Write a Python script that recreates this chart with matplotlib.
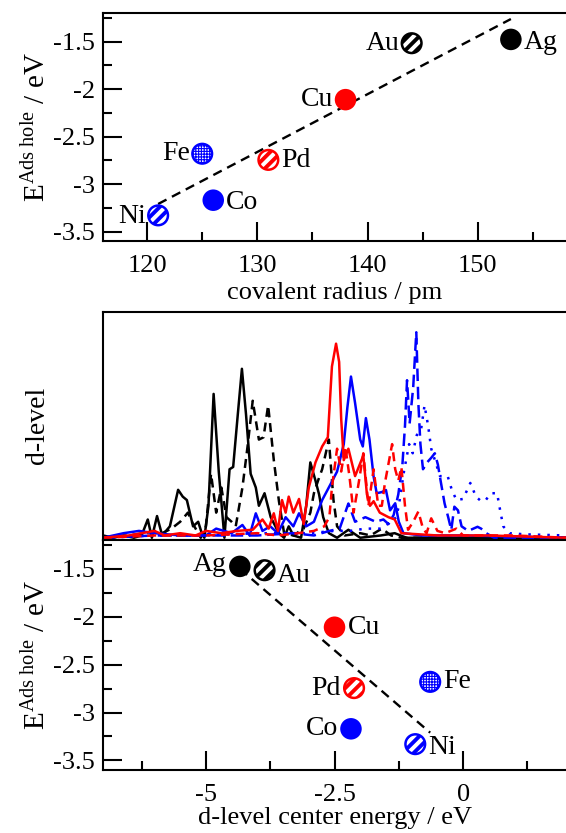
import matplotlib
matplotlib.use("Agg")
import matplotlib.pyplot as plt
from matplotlib.ticker import MultipleLocator

plt.rcParams["font.family"] = ["Liberation Serif", "DejaVu Serif"]
plt.rcParams["mathtext.fontset"] = "custom"
plt.rcParams["mathtext.rm"] = "Liberation Serif"
plt.rcParams["mathtext.it"] = "Liberation Serif:italic"
plt.rcParams["axes.unicode_minus"] = False
plt.rcParams["font.size"] = 19
plt.rcParams["axes.linewidth"] = 1.5

# --- data ------------------------------------------------------------------
metals   = ["Ni", "Co", "Fe", "Pd", "Cu", "Au", "Ag"]
radius   = [121, 126, 125, 131, 138, 144, 153]            # pm
e_hole   = [-3.33, -3.17, -2.68, -2.745, -2.11, -1.515, -1.475]  # eV
d_center = [-0.93, -2.18, -0.64, -2.12, -2.50, -3.86, -4.34]      # eV
colors   = ["blue", "blue", "blue", "red", "red", "black", "black"]
fills    = ["stripe", "solid", "dots", "stripe", "solid", "stripe", "solid"]

# linear fits (end points)
fit_r_x = [121, 153]
fit_r_y = [-3.21, -1.26]
fit_d_x = [-4.34, -0.64]
fit_d_y = [-1.50, -3.21]

# d-projected DOS curves (arb. units)
ag_E = [-7.0, -6.8, -6.6, -6.4, -6.25, -6.13, -6.05, -5.95, -5.85, -5.7, -5.54, -5.45,
        -5.37, -5.25, -5.15, -5.08, -5.03, -4.95, -4.85, -4.75, -4.64, -4.54, -4.47,
        -4.38, -4.30, -4.22, -4.13, -4.03, -3.97, -3.86, -3.74, -3.58, -3.48, -3.39,
        -3.30, -3.15, -3.05, -2.97, -2.87, -2.80, -2.72, -2.61, -2.45, -2.23, -2.0,
        -1.6, -1.33, -1.1, 0.0, 2.0]
ag_h = [0.02, 0.01, 0.02, 0.01, 0.02, 0.09, 0.01, 0.105, 0.02, 0.06, 0.22, 0.19,
        0.175, 0.06, 0.08, 0.03, 0.01, 0.15, 0.64, 0.30, 0.01, 0.31, 0.32,
        0.55, 0.75, 0.55, 0.29, 0.23, 0.15, 0.205, 0.10, 0.03, 0.01, 0.06,
        0.02, 0.01, 0.15, 0.34, 0.26, 0.20, 0.10, 0.03, 0.01, 0.045, 0.01,
        0.02, 0.03, 0.01, 0.01, 0.01]

au_E = [-7.0, -6.5, -6.2, -6.0, -5.85, -5.67, -5.5, -5.35, -5.25, -5.1, -5.0, -4.9,
        -4.8, -4.7, -4.6, -4.5, -4.42, -4.29, -4.19, -4.09, -3.97, -3.88, -3.79,
        -3.68, -3.58, -3.48, -3.3, -3.1, -2.97, -2.90, -2.82, -2.74, -2.61, -2.52,
        -2.45, -2.3, -2.0, -1.8, -1.58, -1.4, -1.2, 0.0, 2.0]
au_h = [0.01, 0.02, 0.03, 0.04, 0.03, 0.05, 0.08, 0.12, 0.07, 0.01, 0.06, 0.29,
        0.12, 0.23, 0.10, 0.08, 0.06, 0.23, 0.41, 0.61, 0.44, 0.45, 0.59,
        0.35, 0.17, 0.03, 0.02, 0.05, 0.12, 0.205, 0.26, 0.31, 0.44, 0.175,
        0.06, 0.02, 0.03, 0.02, 0.05, 0.02, 0.01, 0.01, 0.01]

cu_E = [-7.0, -6.5, -6.0, -5.8, -5.5, -5.2, -5.0, -4.7, -4.4, -4.09, -3.9, -3.78,
        -3.68, -3.60, -3.52, -3.45, -3.39, -3.30, -3.19, -3.10, -3.00, -2.87, -2.74,
        -2.63, -2.55, -2.47, -2.41, -2.37, -2.32, -2.23, -2.10, -1.94, -1.87, -1.81,
        -1.74, -1.62, -1.45, -1.33, -1.20, -0.5, 0.5, 2.0]
cu_h = [0.01, 0.02, 0.04, 0.02, 0.03, 0.02, 0.04, 0.03, 0.04, 0.045, 0.09, 0.05,
        0.117, 0.04, 0.175, 0.12, 0.19, 0.12, 0.18, 0.07, 0.23, 0.34, 0.41,
        0.45, 0.76, 0.86, 0.78, 0.53, 0.35, 0.40, 0.28, 0.37, 0.20, 0.15,
        0.17, 0.12, 0.10, 0.09, 0.03, 0.02, 0.02, 0.01]

pd_E = [-7.0, -6.0, -5.0, -4.0, -3.6, -3.2, -2.9, -2.7, -2.6, -2.55, -2.45, -2.37,
        -2.29, -2.21, -2.13, -2.03, -1.94, -1.84, -1.74, -1.65, -1.58, -1.52, -1.38,
        -1.32, -1.26, -1.20, -1.13, -1.07, -0.97, -0.87, -0.78, -0.71, -0.62, -0.5,
        -0.35, -0.13, 0.0, 1.0, 2.0]
pd_h = [0.01, 0.02, 0.02, 0.03, 0.02, 0.03, 0.04, 0.06, 0.10, 0.23, 0.40, 0.30,
        0.41, 0.28, 0.12, 0.25, 0.38, 0.15, 0.31, 0.15, 0.15, 0.25, 0.42,
        0.31, 0.26, 0.32, 0.15, 0.045, 0.08, 0.125, 0.05, 0.03, 0.095, 0.04,
        0.03, 0.05, 0.02, 0.02, 0.01]

co_E = [-7.0, -6.6, -6.3, -6.0, -5.5, -5.0, -4.8, -4.5, -4.29, -4.15, -4.03, -3.9,
        -3.75, -3.6, -3.45, -3.3, -3.19, -3.05, -2.9, -2.74, -2.55, -2.45, -2.32,
        -2.25, -2.18, -2.10, -2.0, -1.95, -1.89, -1.82, -1.74, -1.68, -1.58, -1.50,
        -1.42, -1.32, -1.25, -1.16, -0.8, 0.0, 2.0]
co_h = [0.01, 0.03, 0.04, 0.03, 0.02, 0.02, 0.05, 0.03, 0.066, 0.02, 0.117, 0.04,
        0.06, 0.03, 0.10, 0.06, 0.117, 0.06, 0.08, 0.175, 0.256, 0.30, 0.42,
        0.58, 0.716, 0.60, 0.44, 0.41, 0.534, 0.44, 0.278, 0.205, 0.21, 0.219,
        0.13, 0.161, 0.08, 0.03, 0.02, 0.02, 0.01]

ni_E = [-7.0, -6.0, -5.0, -4.0, -3.3, -2.9, -2.6, -2.4, -2.23, -2.1, -1.9, -1.7,
        -1.55, -1.45, -1.35, -1.26, -1.18, -1.13, -1.09, -1.04, -0.97, -0.91, -0.87,
        -0.83, -0.78, -0.70, -0.62, -0.55, -0.49, -0.43, -0.36, -0.29, -0.23, -0.17,
        -0.10, -0.03, 0.1, 0.28, 0.35, 0.45, 0.6, 1.0, 2.0]
ni_h = [0.01, 0.02, 0.02, 0.02, 0.03, 0.02, 0.04, 0.05, 0.16, 0.08, 0.10, 0.08,
        0.09, 0.07, 0.11, 0.20, 0.33, 0.50, 0.70, 0.51, 0.67, 0.91, 0.60,
        0.42, 0.31, 0.34, 0.36, 0.38, 0.33, 0.25, 0.16, 0.10, 0.044, 0.146,
        0.13, 0.06, 0.04, 0.058, 0.05, 0.03, 0.01, 0.01, 0.01]

fe_E = [-7.0, -6.0, -5.0, -4.0, -3.0, -2.5, -2.2, -1.9, -1.6, -1.4, -1.3, -1.25,
        -1.15, -1.05, -0.98, -0.90, -0.82, -0.75, -0.68, -0.62, -0.52, -0.45, -0.30,
        -0.22, -0.13, 0.0, 0.14, 0.25, 0.35, 0.44, 0.54, 0.66, 0.72, 0.78, 0.9,
        1.2, 2.0]
fe_h = [0.01, 0.02, 0.02, 0.03, 0.03, 0.04, 0.04, 0.05, 0.05, 0.08, 0.10, 0.15,
        0.30, 0.42, 0.38, 0.46, 0.48, 0.59, 0.50, 0.40, 0.33, 0.28, 0.28,
        0.22, 0.175, 0.18, 0.25, 0.19, 0.17, 0.175, 0.205, 0.205, 0.13, 0.06, 0.03,
        0.025, 0.02]

# label offsets in pixels (dx, dy) and alignment per metal, per panel
top_lab = {"Ni": (-12, -1, "right"), "Co": (13, -2, "left"), "Fe": (-12, 0, "right"),
           "Pd": (13, -1, "left"), "Cu": (-12, 0, "right"), "Au": (-12, 0, "right"),
           "Ag": (13, -3, "left")}
bot_lab = {"Ni": (13, -3, "left"), "Co": (-13, 0, "right"), "Fe": (13, 0, "left"),
           "Pd": (-13, 0, "right"), "Cu": (13, 0, "left"), "Au": (12, -5, "left"),
           "Ag": (-13, 2, "right")}


def style_axes(ax):
    ax.spines["right"].set_visible(False)
    ax.tick_params(which="both", direction="in", color="black", width=1.5,
                   top=False, right=False)
    ax.tick_params(which="major", length=13.5)
    ax.tick_params(which="minor", length=6.5)
    ax.tick_params(axis="x", which="major", pad=10)
    ax.tick_params(axis="y", which="major", pad=6)


def draw_points(ax, xs, labels):
    for x, y, m, c, f in zip(xs, e_hole, metals, colors, fills):
        if f == "solid":
            ax.scatter([x], [y], s=240, color=c, edgecolors="none", zorder=4)
        elif f == "stripe":
            with plt.rc_context({"hatch.color": c, "hatch.linewidth": 2.8}):
                ax.scatter([x], [y], s=200, facecolors="white", edgecolors=c,
                           linewidths=1.8, hatch="///", zorder=4)
        else:
            with plt.rc_context({"hatch.color": c, "hatch.linewidth": 0.8}):
                ax.scatter([x], [y], s=200, facecolors="white", edgecolors=c,
                           linewidths=1.8, hatch="++++++", zorder=4)
        dx, dy, ha = labels[m]
        ax.annotate(m, (x, y), xytext=(dx, dy), textcoords="offset pixels",
                    ha=ha, va="center", fontsize=20, zorder=5)


fig = plt.figure(figsize=(5.66, 8.33), dpi=100)
ax1 = fig.add_axes([0.182, 0.7107, 0.818, 0.2733])
ax2 = fig.add_axes([0.182, 0.3517, 0.818, 0.2741])
ax3 = fig.add_axes([0.182, 0.0756, 0.818, 0.2761])

ylab = r"E$^{\rm Ads\ hole}$ / eV"
fmt = plt.FuncFormatter(lambda v, p: f"{v:g}")

# top: covalent radius
ax1.plot(fit_r_x, fit_r_y, color="black", lw=1.7, ls=(0, (4, 2.6)), zorder=3)
draw_points(ax1, radius, top_lab)
ax1.set_xlim(116, 158)
ax1.set_ylim(-3.6, -1.2)
ax1.xaxis.set_major_locator(MultipleLocator(10))
ax1.xaxis.set_minor_locator(MultipleLocator(5))
ax1.yaxis.set_major_locator(MultipleLocator(0.5))
ax1.yaxis.set_minor_locator(MultipleLocator(0.25))
ax1.yaxis.set_major_formatter(fmt)
ax1.set_xlabel("covalent radius / pm", labelpad=4)
ax1.set_ylabel(ylab, labelpad=1, fontsize=21)
style_axes(ax1)

# middle: d-level DOS
lw = 1.8
ax2.plot(ag_E, ag_h, color="black", lw=lw)
ax2.plot(au_E, au_h, color="black", lw=lw, ls=(0, (3.6, 2.3)))
ax2.plot(co_E, co_h, color="blue", lw=lw)
ax2.plot(ni_E, ni_h, color="blue", lw=lw, ls=(0, (5, 2.3)))
ax2.plot(fe_E, fe_h, color="blue", lw=lw, ls=(0, (1, 2.8)))
ax2.plot(cu_E, cu_h, color="red", lw=lw)
ax2.plot(pd_E, pd_h, color="red", lw=lw, ls=(0, (3.6, 2.3)))
ax2.set_xlim(-7, 2)
ax2.set_ylim(0, 1)
ax2.set_xticks([])
ax2.set_yticks([])
ax2.spines["right"].set_visible(False)
ax2.set_ylabel("d-level", labelpad=38, fontsize=20)

# bottom: d-level center
ax3.plot(fit_d_x, fit_d_y, color="black", lw=1.7, ls=(0, (4, 2.6)), zorder=3)
draw_points(ax3, d_center, bot_lab)
ax3.set_xlim(-7, 2)
ax3.set_ylim(-3.6, -1.2)
ax3.xaxis.set_major_locator(MultipleLocator(2.5))
ax3.xaxis.set_minor_locator(MultipleLocator(1.25))
ax3.xaxis.set_major_formatter(fmt)
ax3.yaxis.set_major_locator(MultipleLocator(0.5))
ax3.yaxis.set_minor_locator(MultipleLocator(0.25))
ax3.yaxis.set_major_formatter(fmt)
ax3.set_xlabel("d-level center energy / eV", labelpad=1)
ax3.set_ylabel(ylab, labelpad=1, fontsize=21)
style_axes(ax3)

fig.savefig("out.png", dpi=100)
